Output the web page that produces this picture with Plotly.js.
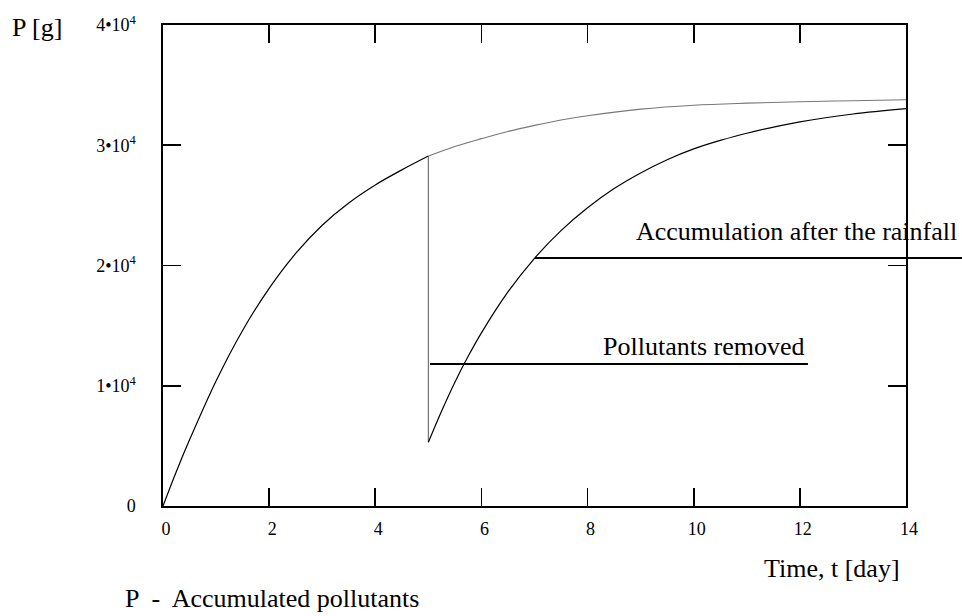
<!DOCTYPE html>
<html>
<head>
<meta charset="utf-8">
<script src="https://cdn.plot.ly/plotly-3.0.1.min.js"></script>
<style>html,body{margin:0;padding:0;background:#fff;}#chart{width:962px;height:616px;}</style>
</head>
<body>
<div id="chart"></div>
<script>
// Accumulation without rainfall, t = 0..5 (black part)
const tRise = [0, 0.25, 0.5, 1.0, 1.5, 2.0, 2.5, 3.0, 3.5, 4.0, 4.5, 5.0];
const pRise = [0, 2850, 5500, 10400, 14600, 18100, 21000, 23350, 25200, 26700, 27950, 29100];
// Continuation of the accumulation without rainfall, t = 5..14 (grey part)
const tNoRain = [5.0, 5.5, 6.0, 6.5, 7.0, 7.5, 8.0, 9.0, 10.0, 11.0, 12.0, 13.0, 14.0];
const pNoRain = [29100, 29900, 30550, 31150, 31650, 32100, 32450, 33000, 33330, 33500, 33620, 33700, 33780];
// Wash-off by the rainfall at t = 5
const tDrop = [5.0, 5.0];
const pDrop = [29100, 5300];
// Accumulation after the rainfall
const tAfter = [5.0, 5.25, 5.5, 5.75, 6.0, 6.5, 7.0, 7.5, 8.0, 8.5, 9.0, 9.5, 10.0, 10.5, 11.0, 12.0, 13.0, 14.0];
const pAfter = [5300, 7900, 10300, 12450, 14400, 17800, 20600, 22900, 24800, 26400, 27700, 28800, 29700, 30400, 31000, 31950, 32600, 33050];
// Axis ticks
const xTicks = [0, 2, 4, 6, 8, 10, 12, 14];
const yTicks = [0, 10000, 20000, 30000, 40000];
const yTickText = ["0", "1\u202210<sup>4</sup>", "2\u202210<sup>4</sup>", "3\u202210<sup>4</sup>", "4\u202210<sup>4</sup>"];

const FONT = "Liberation Serif, Times New Roman, serif";

const traces = [
  {x: tRise, y: pRise, mode: "lines", line: {color: "#000", width: 1.2, shape: "spline", smoothing: 1}, hoverinfo: "skip"},
  {x: tNoRain, y: pNoRain, mode: "lines", line: {color: "#777", width: 1.1, shape: "spline", smoothing: 1}, hoverinfo: "skip"},
  {x: tDrop, y: pDrop, mode: "lines", line: {color: "#666", width: 1.1}, hoverinfo: "skip"},
  {x: tAfter, y: pAfter, mode: "lines", line: {color: "#000", width: 1.2, shape: "spline", smoothing: 1}, hoverinfo: "skip"}
];

const axisCommon = {
  showgrid: false, zeroline: false,
  showline: true, linecolor: "#000", linewidth: 1.6,
  mirror: "ticks", ticks: "inside", ticklen: 18, tickwidth: 1.6, tickcolor: "#000",
  tickfont: {family: FONT, size: 18, color: "#000"}
};

const layout = {
  width: 962, height: 616,
  margin: {l: 163, r: 56, t: 25, b: 110, pad: 0},
  paper_bgcolor: "#fff", plot_bgcolor: "#fff",
  showlegend: false,
  xaxis: Object.assign({}, axisCommon, {range: [0, 14], tickmode: "array", tickvals: xTicks, ticktext: xTicks.map(String), ticklabelstandoff: 6, ticklabelshift: 3}),
  yaxis: Object.assign({}, axisCommon, {range: [0, 40000], tickmode: "array", tickvals: yTicks, ticktext: yTickText, ticklabelstandoff: 22}),
  shapes: [
    {type: "line", xref: "paper", yref: "paper", x0: 0.5007, x1: 1.0754, y0: 0.5156, y1: 0.5156, line: {color: "#000", width: 2}},
    {type: "line", xref: "paper", yref: "paper", x0: 0.3594, x1: 0.868, y0: 0.2952, y1: 0.2952, line: {color: "#000", width: 2}}
  ],
  annotations: [
    {text: "Accumulation after the rainfall", xref: "paper", yref: "paper", x: 1.071, y: 0.5717, xanchor: "right", yanchor: "middle", showarrow: false, font: {family: FONT, size: 26, color: "#000"}},
    {text: "Pollutants removed", xref: "paper", yref: "paper", x: 0.866, y: 0.3326, xanchor: "right", yanchor: "middle", showarrow: false, font: {family: FONT, size: 26, color: "#000"}},
    {text: "P [g]", xref: "paper", yref: "paper", x: -0.206, y: 0.9958, xanchor: "left", yanchor: "middle", showarrow: false, font: {family: FONT, size: 26, color: "#000"}},
    {text: "Time, t [day]", xref: "paper", yref: "paper", x: 0.9946, y: -0.129, xanchor: "right", yanchor: "middle", showarrow: false, font: {family: FONT, size: 26, color: "#000"}},
    {text: "P  -  Accumulated pollutants", xref: "paper", yref: "paper", x: -0.0538, y: -0.2266, xanchor: "left", yanchor: "bottom", showarrow: false, font: {family: FONT, size: 26, color: "#000"}}
  ]
};

Plotly.newPlot("chart", traces, layout, {staticPlot: true, displayModeBar: false});
</script>
</body>
</html>
